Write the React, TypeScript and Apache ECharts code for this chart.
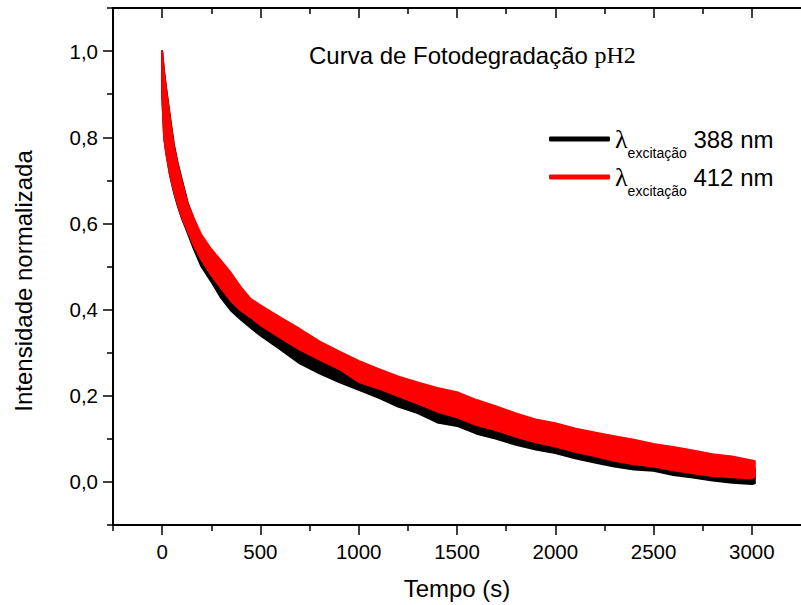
import React, { useEffect, useRef } from "react";
import * as echarts from "echarts";

// Irradiation time (s) at which each band edge was sampled
const tempo = [
  0, 10, 20, 40, 60, 80, 100, 130, 160, 200, 250, 300, 350, 400, 450, 500, 600, 700, 800, 900,
  1000, 1100, 1200, 1300, 1400, 1500, 1600, 1700, 1800, 1900, 2000, 2100, 2200, 2300, 2400,
  2500, 2600, 2700, 2800, 2900, 3000, 3015,
];

// Excitation at 412 nm: upper and lower edge of the noisy trace
const red412High = [
  1.0, 0.95, 0.912, 0.842, 0.778, 0.733, 0.698, 0.645, 0.612, 0.573, 0.54, 0.513, 0.485, 0.452,
  0.425, 0.41, 0.382, 0.355, 0.326, 0.303, 0.281, 0.262, 0.245, 0.231, 0.218, 0.208, 0.19, 0.175,
  0.159, 0.145, 0.136, 0.124, 0.115, 0.106, 0.098, 0.088, 0.081, 0.073, 0.064, 0.059, 0.05, 0.048,
];
const red412Low = [
  0.9, 0.8, 0.765, 0.712, 0.675, 0.643, 0.615, 0.582, 0.55, 0.515, 0.48, 0.45, 0.42, 0.398, 0.382,
  0.364, 0.335, 0.307, 0.284, 0.262, 0.232, 0.217, 0.199, 0.182, 0.163, 0.15, 0.132, 0.12, 0.105,
  0.092, 0.082, 0.07, 0.06, 0.049, 0.041, 0.036, 0.027, 0.02, 0.014, 0.011, 0.008, 0.012,
];

// Excitation at 388 nm: upper and lower edge of the noisy trace
const black388High = [
  1.0, 0.952, 0.915, 0.847, 0.783, 0.738, 0.702, 0.648, 0.612, 0.565, 0.52, 0.49, 0.46, 0.43,
  0.405, 0.39, 0.36, 0.33, 0.305, 0.28, 0.26, 0.24, 0.22, 0.205, 0.19, 0.18, 0.16, 0.148, 0.132,
  0.12, 0.11, 0.098, 0.088, 0.078, 0.07, 0.062, 0.054, 0.046, 0.038, 0.033, 0.03, 0.03,
];
const black388Low = [
  0.9, 0.8, 0.765, 0.712, 0.672, 0.64, 0.612, 0.578, 0.542, 0.5, 0.465, 0.427, 0.398, 0.377, 0.358,
  0.34, 0.308, 0.275, 0.252, 0.232, 0.214, 0.196, 0.175, 0.16, 0.138, 0.13, 0.112, 0.1, 0.086,
  0.075, 0.067, 0.055, 0.045, 0.036, 0.029, 0.026, 0.016, 0.01, 0.003, -0.002, -0.005, -0.003,
];

// Axis ticks
const xMajor = [0, 500, 1000, 1500, 2000, 2500, 3000];
const xMinor = [-250, 250, 750, 1250, 1750, 2250, 2750];
const yMajor = [0, 0.2, 0.4, 0.6, 0.8, 1.0];
const yMinor = [-0.1, 0.1, 0.3, 0.5, 0.7, 0.9, 1.1];

const SANS = "'Liberation Sans', Arial, Helvetica, sans-serif";
const SERIF = "'Liberation Serif', 'Times New Roman', Times, serif";

function bandSeries(name: string, color: string, low: number[], high: number[]) {
  return {
    type: "custom",
    name,
    xAxisIndex: 0,
    yAxisIndex: 0,
    clip: true,
    itemStyle: { color },
    encode: { x: 0, y: [1, 2] },
    data: tempo.map((t, i) => [t, low[i], high[i]]),
    renderItem: (params: any, api: any) => {
      if (params.dataIndexInside !== 0) return null;
      const n = params.dataInsideLength;
      const upper: number[][] = [];
      const lower: number[][] = [];
      for (let i = 0; i < n; i++) {
        const x = api.value(0, i);
        upper.push(api.coord([x, api.value(2, i)]));
        lower.push(api.coord([x, api.value(1, i)]));
      }
      return {
        type: "polygon",
        shape: { points: upper.concat(lower.reverse()) },
        style: { fill: color, stroke: color, lineWidth: 2, lineJoin: "round" },
      };
    },
  };
}

export default function App() {
  const ref = useRef<HTMLDivElement>(null);

  useEffect(() => {
    document.body.style.margin = "0";
    if (!ref.current) return;
    const chart = echarts.init(ref.current, null, { renderer: "svg" });

    const xRange = { min: -250, max: 3250 };
    const yRange = { min: -0.1, max: 1.1 };
    const axisColor = "#000";

    chart.setOption({
      animation: false,
      backgroundColor: "#fff",
      grid: { left: 113, top: 8, width: 695, height: 518, containLabel: false },
      legend: {
        orient: "vertical",
        left: 549,
        top: 126,
        padding: 0,
        itemWidth: 61,
        itemHeight: 5,
        itemGap: 4,
        icon: "roundRect",
        selectedMode: false,
        data: ["388", "412"],
        formatter: (name: string) => `{l|λ}{s|excitação}{n| ${name} nm}`,
        textStyle: {
          color: "#000",
          rich: {
            l: { fontFamily: SERIF, fontSize: 26, lineHeight: 42, color: "#000", verticalAlign: "middle" },
            s: {
              fontFamily: SANS,
              fontSize: 14,
              lineHeight: 2,
              color: "#000",
              verticalAlign: "bottom",
            },
            n: { fontFamily: SANS, fontSize: 24, lineHeight: 42, color: "#000", verticalAlign: "middle" },
          },
        },
      },
      graphic: [
        {
          type: "text",
          x: 309,
          y: 55,
          style: {
            text: "{a|Curva de Fotodegradação }{b|pH2}",
            verticalAlign: "middle",
            rich: {
              a: { fontFamily: SANS, fontSize: 24, fill: "#000" },
              b: { fontFamily: SERIF, fontSize: 24, fill: "#000" },
            },
          },
        },
      ],
      xAxis: [
        {
          type: "value",
          position: "bottom",
          ...xRange,
          name: "Tempo (s)",
          nameLocation: "middle",
          nameGap: 51,
          nameTextStyle: { fontFamily: SANS, fontSize: 24, color: "#000" },
          axisLine: { show: true, onZero: false, lineStyle: { color: axisColor, width: 2 } },
          axisTick: {
            show: true,
            inside: false,
            length: 10,
            customValues: xMajor,
            lineStyle: { color: axisColor, width: 1.5 },
          },
          axisLabel: {
            show: true,
            customValues: xMajor,
            margin: 16,
            fontFamily: SANS,
            fontSize: 20.5,
            color: "#000",
            formatter: (v: number) => String(v),
          },
          splitLine: { show: false },
        },
        {
          type: "value",
          position: "bottom",
          ...xRange,
          axisLine: { show: false, onZero: false },
          axisTick: {
            show: true,
            inside: false,
            length: 6,
            customValues: xMinor,
            lineStyle: { color: axisColor, width: 1.5 },
          },
          axisLabel: { show: false },
          splitLine: { show: false },
        },
        {
          type: "value",
          position: "top",
          ...xRange,
          axisLine: { show: true, onZero: false, lineStyle: { color: axisColor, width: 2 } },
          axisTick: {
            show: true,
            inside: true,
            length: 10,
            customValues: xMajor,
            lineStyle: { color: axisColor, width: 1.5 },
          },
          axisLabel: { show: false },
          splitLine: { show: false },
        },
        {
          type: "value",
          position: "top",
          ...xRange,
          axisLine: { show: false, onZero: false },
          axisTick: {
            show: true,
            inside: true,
            length: 6,
            customValues: xMinor,
            lineStyle: { color: axisColor, width: 1.5 },
          },
          axisLabel: { show: false },
          splitLine: { show: false },
        },
      ],
      yAxis: [
        {
          type: "value",
          position: "left",
          ...yRange,
          name: "Intensidade normalizada",
          nameLocation: "middle",
          nameGap: 78,
          nameTextStyle: { fontFamily: SANS, fontSize: 24, color: "#000", padding: [0, 29, 0, 0] },
          axisLine: { show: true, onZero: false, lineStyle: { color: axisColor, width: 2 } },
          axisTick: {
            show: true,
            inside: false,
            length: 10,
            customValues: yMajor,
            lineStyle: { color: axisColor, width: 1.5 },
          },
          axisLabel: {
            show: true,
            customValues: yMajor,
            margin: 15,
            fontFamily: SANS,
            fontSize: 20.5,
            color: "#000",
            formatter: (v: number) => v.toFixed(1).replace(".", ","),
          },
          splitLine: { show: false },
        },
        {
          type: "value",
          position: "left",
          ...yRange,
          axisLine: { show: false, onZero: false },
          axisTick: {
            show: true,
            inside: false,
            length: 6,
            customValues: yMinor,
            lineStyle: { color: axisColor, width: 1.5 },
          },
          axisLabel: { show: false },
          splitLine: { show: false },
        },
      ],
      series: [
        bandSeries("388", "#000000", black388Low, black388High),
        bandSeries("412", "#ff0000", red412Low, red412High),
      ],
    });

    return () => {
      chart.dispose();
    };
  }, []);

  return <div ref={ref} style={{ width: 801, height: 605 }} />;
}
